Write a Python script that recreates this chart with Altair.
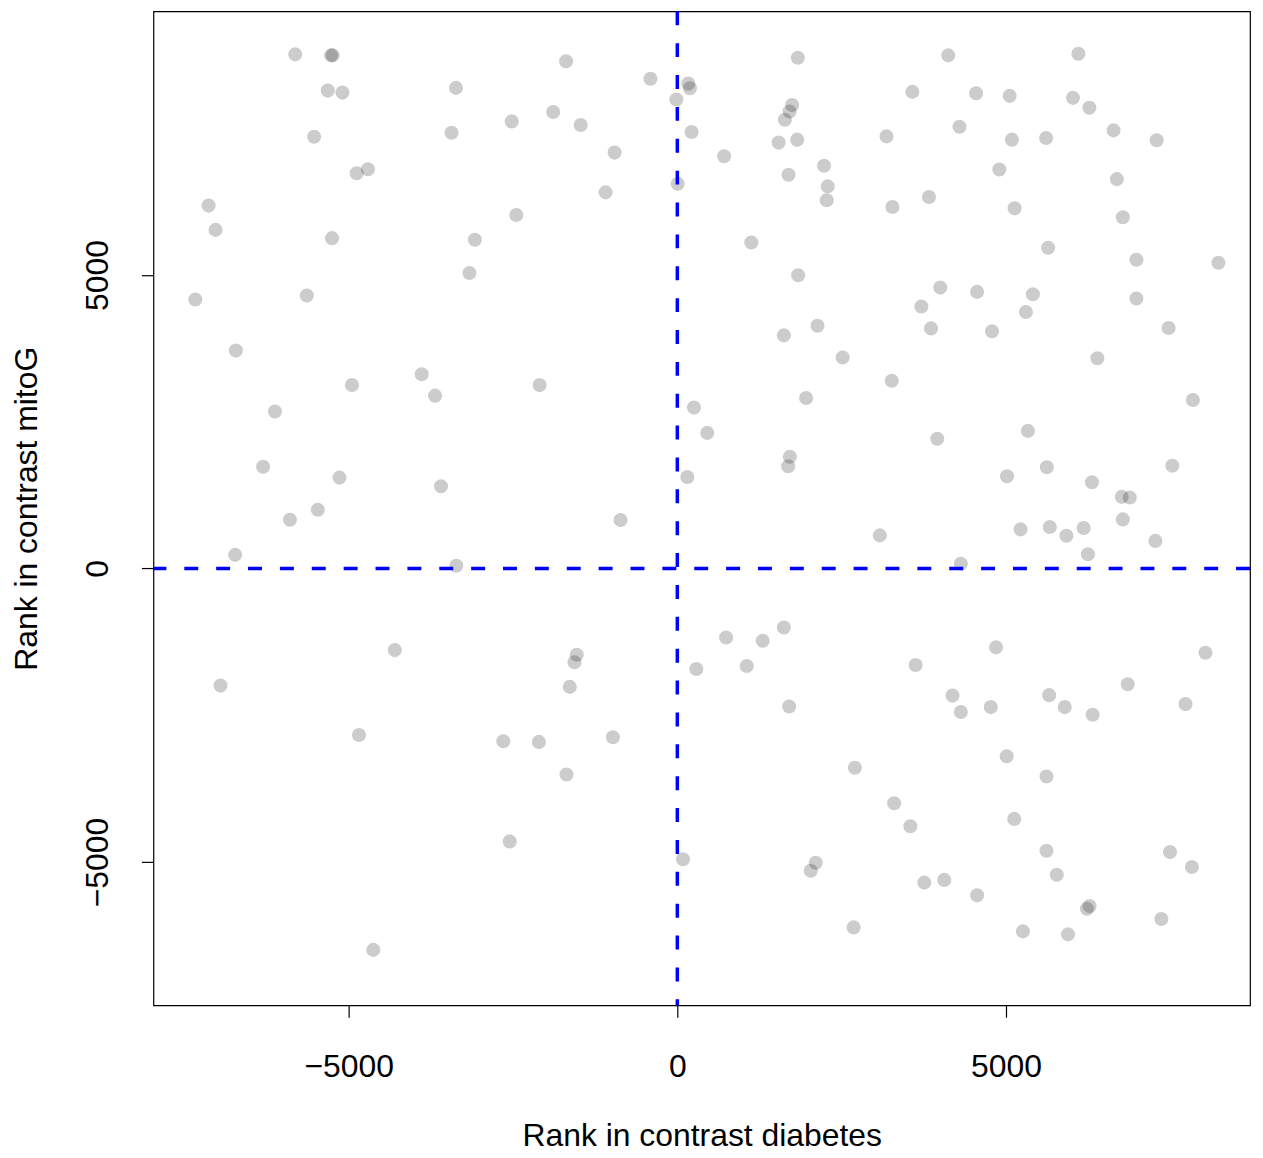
import altair as alt
import pandas as pd

# Rank in contrast diabetes (x) and Rank in contrast mitoG (y)
rank_diabetes = [
    -5813, -5268, -5242, -5318, -5095, -5525, -4878, -4707, -7131, -7025,
    -5253, -7333, -5636, -1692, -3368, -409, 167, 192, -15, -2519,
    -1889, -1470, -3435, 217, -954, 5, -1091, -2450, -3080, -3162,
    1833, 4121, 3575, 4545, 1747, 1707, 1636, 1541, 1823, 712,
    3182, 4292, 2232, 1692, 2288, 2273, 3272, 3828, 1126, 1838,
    4000, 4560, 3712, 3859, 2132, 1621, 6101, 5056, 6019, 6268,
    5090, 5610, 6636, 7292, 4898, 6686, 5131, 6777, 5640, 6984,
    8231, 5409, 6984, 5303, 4787, 7474, -6716, -4950, -3889, -3686,
    -6121, -6302, -5140, -5893, -5469, -6727, -4298, -2095, -3595, -864,
    -3363, 253, 455, 152, -1530, -1565, 288, 2515, 3262, 1959,
    3954, 1712, 1686, 3080, 4313, 742, 1298, 1621, 1056, 3625,
    6389, 7843, 5333, 5621, 5015, 6307, 7530, 6761, 6883, 6777,
    5222, 5666, 5919, 6181, 7272, 6246, 4848, 8034, -6949, -4843,
    -4625, -1636, -2647, -2106, -980, -1686, -2550, 86, 1701, 4186,
    4313, 2701, 3298, 3545, 2106, 2030, 3757, 4060, 4560, 2682,
    4768, 5656, 5893, 6318, 6852, 7731, 5010, 5616, 5125, 5616,
    7495, 7828, 5772, 6272, 6231, 7363, 5257, 5943,
]
rank_mitoG = [
    8758, 8741, 8741, 8141, 8107, 7356, 6734, 6802, 6182, 5768,
    5627, 4582, 4649, 8639, 8187, 8344, 8260, 8182, 7989, 7616,
    7775, 7555, 7424, 7436, 7085, 6555, 6407, 6022, 5599, 5034,
    8700, 8741, 8119, 8097, 7894, 7785, 7644, 7255, 7305, 7022,
    7361, 7526, 6860, 6707, 6509, 6272, 6158, 6327, 5554, 4995,
    4785, 4712, 4463, 4090, 4136, 3971, 8768, 8051, 8017, 7848,
    7305, 7334, 7463, 7294, 6797, 6633, 6136, 5983, 5463, 5260,
    5209, 4673, 4599, 4368, 4039, 4097, 3712, 3124, 3310, 2944,
    2673, 1734, 1548, 831, 1000, 232, -1390, 3124, 1402, 825,
    46, 2741, 2310, 1559, -1470, -1598, -1712, 3593, 3198, 2904,
    2209, 1903, 1741, 564, 80, -1175, -1232, -1005, -1661, -1644,
    3582, 2870, 2344, 1724, 1571, 1470, 1751, 1220, 1209, 836,
    666, 707, 559, 690, 470, 242, -1344, -1436, -1995, -2836,
    -6497, -2017, -2944, -2954, -2876, -3509, -4649, -4954, -2351, -2165,
    -2446, -3395, -4000, -4390, -5012, -5148, -5351, -5305, -5568, -6114,
    -2361, -2158, -2361, -2492, -1971, -2310, -3198, -3543, -4266, -4809,
    -4831, -5085, -5216, -5751, -5797, -5971, -6182, -6233,
]
tick_values = [-5000, 0, 5000]
x_domain = [-7970, 8712]
y_domain = [-7441, 9492]
ref_x = [0]
ref_y = [0]

df = pd.DataFrame({"diabetes": rank_diabetes, "mitoG": rank_mitoG})

x_scale = alt.Scale(domain=x_domain, nice=False, zero=False)
y_scale = alt.Scale(domain=y_domain, nice=False, zero=False)

x_axis = alt.Axis(
    title="Rank in contrast diabetes",
    values=tick_values,
    format="d",
    labelBaseline="alphabetic",
    labelPadding=59,
    titleBaseline="alphabetic",
    titleY=141,
)
y_axis = alt.Axis(
    title="Rank in contrast mitoG",
    values=tick_values,
    format="d",
    labelAngle=-90,
    labelAlign="center",
    labelBaseline="alphabetic",
    labelPadding=34,
    titleAngle=-90,
    titleBaseline="alphabetic",
    titleX=-117,
)

points = alt.Chart(df).mark_circle(
    size=200, color="black", opacity=0.2, strokeWidth=0
).encode(
    x=alt.X("diabetes:Q", scale=x_scale, axis=x_axis),
    y=alt.Y("mitoG:Q", scale=y_scale, axis=y_axis),
)

hline = alt.Chart(pd.DataFrame({"y": ref_y})).mark_rule(
    color="blue", strokeDash=[14, 18], strokeWidth=3.5
).encode(y=alt.Y("y:Q", scale=y_scale))

vline = alt.Chart(pd.DataFrame({"x": ref_x})).mark_rule(
    color="blue", strokeDash=[14, 18], strokeWidth=3.5
).encode(x=alt.X("x:Q", scale=x_scale))

chart = alt.layer(points, hline, vline).properties(
    width=1101,
    height=998,
    padding={"left": 146, "top": 1, "right": 5, "bottom": 146},
    autosize=alt.AutoSizeParams(type="none"),
).configure_view(
    stroke="black", strokeWidth=1.2
).configure_axis(
    grid=False,
    domain=False,
    tickColor="black",
    tickSize=12,
    tickWidth=1.2,
    labelColor="black",
    labelFont="Liberation Sans",
    labelFontSize=32,
    titleColor="black",
    titleFont="Liberation Sans",
    titleFontSize=32,
    titleFontWeight="normal",
)

chart.save("out.html", embed_options={"renderer": "svg", "actions": False})
